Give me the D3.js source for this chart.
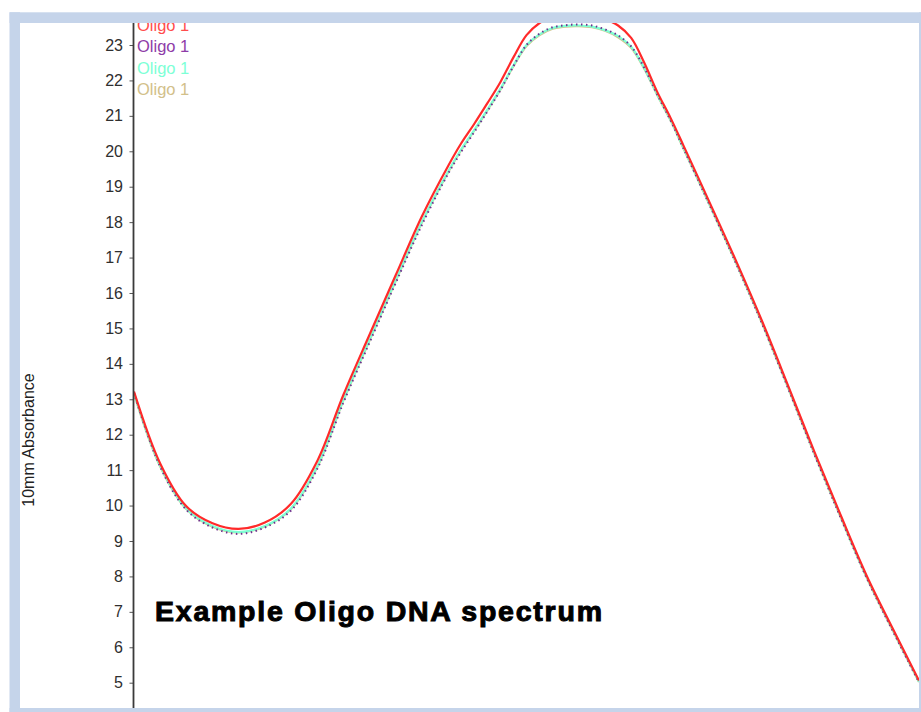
<!DOCTYPE html>
<html>
<head>
<meta charset="utf-8">
<script src="https://cdn.jsdelivr.net/npm/d3@7"></script>
<style>
  html, body { margin: 0; padding: 0; background: #ffffff; }
  svg { display: block; }
</style>
</head>
<body>
<svg id="chart" width="921" height="712"></svg>
<script>
// ---- data ----
const wavelengths  = [220, 222.5, 225, 227.5, 230, 232.5, 235, 237.5, 240, 242.5, 245, 247.5, 250, 251.25, 252.5, 253.75, 255, 256.25, 257.5, 258.75, 260, 261.25, 262.5, 263.75, 265, 266.25, 267.5, 268.75, 270, 271.25, 272.5, 275, 277.5, 280, 282.5, 285, 287.5, 290, 292.5, 295];
const seriesRed    = [13.22, 11.19, 9.98, 9.50, 9.34, 9.52, 10.05, 11.25, 13.12, 14.82, 16.50, 18.16, 19.58, 20.22, 20.77, 21.35, 21.95, 22.65, 23.28, 23.62, 23.80, 23.87, 23.88, 23.84, 23.73, 23.55, 23.20, 22.50, 21.67, 20.95, 20.16, 18.55, 16.92, 15.21, 13.38, 11.52, 9.74, 8.02, 6.52, 5.06];
const seriesPurple = [13.18, 11.10, 9.88, 9.38, 9.20, 9.38, 9.86, 11.03, 12.90, 14.60, 16.28, 17.92, 19.36, 19.98, 20.54, 21.12, 21.72, 22.40, 23.00, 23.32, 23.50, 23.56, 23.58, 23.55, 23.44, 23.27, 22.96, 22.36, 21.60, 20.88, 20.08, 18.48, 16.85, 15.14, 13.31, 11.45, 9.67, 7.96, 6.46, 5.01];
const seriesTeal   = [13.17, 11.12, 9.91, 9.42, 9.25, 9.42, 9.92, 11.10, 12.98, 14.68, 16.36, 18.00, 19.42, 20.05, 20.60, 21.17, 21.76, 22.42, 23.00, 23.30, 23.48, 23.54, 23.55, 23.52, 23.42, 23.25, 22.95, 22.35, 21.60, 20.90, 20.10, 18.50, 16.88, 15.17, 13.34, 11.48, 9.70, 7.98, 6.49, 5.03];
const seriesTan    = [13.16, 11.10, 9.90, 9.40, 9.24, 9.41, 9.90, 11.08, 12.96, 14.66, 16.34, 17.98, 19.40, 20.03, 20.58, 21.15, 21.74, 22.40, 22.97, 23.28, 23.46, 23.52, 23.53, 23.50, 23.40, 23.22, 22.92, 22.33, 21.58, 20.88, 20.08, 18.48, 16.86, 15.15, 13.32, 11.46, 9.68, 7.97, 6.47, 5.02];
const legendLabels = ["Oligo 1", "Oligo 1", "Oligo 1", "Oligo 1"];
const yTickValues  = [5, 6, 7, 8, 9, 10, 11, 12, 13, 14, 15, 16, 17, 18, 19, 20, 21, 22, 23];
const yAxisTitle   = "10mm Absorbance";
const chartTitle   = "Example Oligo DNA spectrum";

// ---- layout ----
const svg = d3.select("#chart");
const plot = { left: 20, top: 23, right: 919, bottom: 708 };
const axisX = 133.5;

const x = d3.scaleLinear().domain([220, 295]).range([134, 919]);
const y = d3.scaleLinear().domain([5, 23]).range([682.7, 45]);

svg.append("rect").attr("width", 921).attr("height", 712).attr("fill", "#ffffff");

svg.append("defs").append("clipPath").attr("id", "plotClip")
  .append("rect")
  .attr("x", plot.left).attr("y", plot.top)
  .attr("width", plot.right - plot.left).attr("height", plot.bottom - plot.top);

const g = svg.append("g").attr("clip-path", "url(#plotClip)");

// ---- lines ----
const series = [
  { name: legendLabels[3], values: seriesTan,    color: "#d4c48c", text: "#d2c08a", width: 2.2, dash: null },
  { name: legendLabels[2], values: seriesTeal,   color: "#7fffd4", text: "#7dffd6", width: 2.2, dash: null },
  { name: legendLabels[1], values: seriesPurple, color: "#6e2f8e", text: "#8e3ca8", width: 2,   dash: "1.5,3.5" },
  { name: legendLabels[0], values: seriesRed,    color: "#ff2a2a", text: "#ff4d4d", width: 2.2, dash: null }
];

const line = d3.line()
  .x((d, i) => x(wavelengths[i]))
  .y(d => y(d))
  .curve(d3.curveCatmullRom.alpha(0.5));

series.forEach(s => {
  g.append("path")
    .datum(s.values)
    .attr("d", line)
    .attr("fill", "none")
    .attr("stroke", s.color)
    .attr("stroke-width", s.width)
    .attr("stroke-linejoin", "round")
    .attr("stroke-dasharray", s.dash);
});

// ---- y axis ----
const axis = d3.axisLeft(y).tickValues(yTickValues).tickSize(4).tickPadding(6.5).tickFormat(d3.format("d"));
const axG = svg.append("g").attr("transform", `translate(${axisX},0)`).call(axis);
axG.select(".domain").remove();
axG.selectAll(".tick line").attr("stroke", "#555").attr("stroke-width", 1);
axG.selectAll(".tick text")
  .attr("fill", "#2f2f2f")
  .style("font-family", "'Liberation Sans', Arial, sans-serif")
  .style("font-size", "16px");

svg.append("line")
  .attr("x1", axisX).attr("x2", axisX)
  .attr("y1", plot.top).attr("y2", plot.bottom)
  .attr("stroke", "#3a3a3a").attr("stroke-width", 1.8);

// ---- legend (clipped by the frame, like the original) ----
const legendOrder = [series[3], series[2], series[1], series[0]];
const lg = svg.append("g").attr("clip-path", "url(#plotClip)");
legendOrder.forEach((s, i) => {
  lg.append("text")
    .attr("x", 137)
    .attr("y", 30.5 + i * 21.5)
    .attr("fill", s.text)
    .style("font-family", "'Liberation Sans', Arial, sans-serif")
    .style("font-size", "16.5px")
    .text(s.name);
});

// ---- axis title ----
svg.append("text")
  .attr("transform", "translate(33.5,440) rotate(-90)")
  .attr("text-anchor", "middle")
  .attr("fill", "#222")
  .style("font-family", "'Liberation Sans', Arial, sans-serif")
  .style("font-size", "16px")
  .text(yAxisTitle);

// ---- chart title ----
svg.append("text")
  .attr("x", 155)
  .attr("y", 621)
  .attr("fill", "#000")
  .attr("stroke", "#000")
  .attr("stroke-width", 1.0)
  .attr("textLength", 447)
  .attr("lengthAdjust", "spacing")
  .style("font-family", "'Liberation Sans', Arial, sans-serif")
  .style("font-weight", "bold")
  .style("font-size", "28.5px")
  .text(chartTitle);

// ---- frame ----
const frameColor = "#c5d4ea";
svg.append("rect").attr("x", 9.5).attr("y", 12.3).attr("width", 921 - 9.5).attr("height", plot.top - 12.3).attr("fill", frameColor);
svg.append("rect").attr("x", 9.5).attr("y", 12.3).attr("width", plot.left - 9.5).attr("height", 712 - 12.3).attr("fill", frameColor);
svg.append("rect").attr("x", plot.right).attr("y", 12.3).attr("width", 921 - plot.right).attr("height", 712 - 12.3).attr("fill", frameColor);
svg.append("rect").attr("x", 9.5).attr("y", plot.bottom).attr("width", 921 - 9.5).attr("height", 712 - plot.bottom).attr("fill", frameColor);
</script>
</body>
</html>
